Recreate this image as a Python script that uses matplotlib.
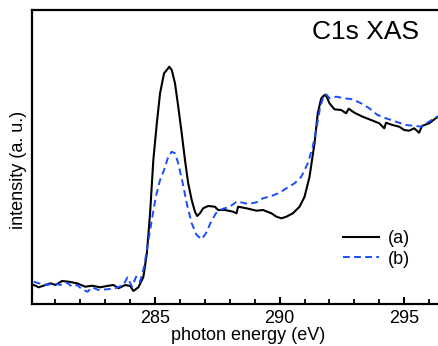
import matplotlib
matplotlib.use("Agg")
import matplotlib.pyplot as plt
from matplotlib.ticker import MultipleLocator

plt.rcParams['font.family'] = ['Liberation Sans', 'DejaVu Sans']

# curve (a): photon energy (eV), intensity (a. u.)
energy_a = [280.13, 280.33, 280.8, 281.0, 281.27, 281.53, 281.87, 282.2, 282.47, 282.8,
            283.07, 283.33, 283.53, 283.8, 284.0, 284.13, 284.33, 284.53, 284.67, 284.8,
            284.93, 285.07, 285.2, 285.36, 285.47, 285.57, 285.67, 285.8, 285.93, 286.07,
            286.2, 286.33, 286.47, 286.6, 286.69, 286.8, 286.93, 287.13, 287.4, 287.53,
            287.8, 288.13, 288.27, 288.33, 288.67, 289.07, 289.33, 289.67, 289.87, 290.07,
            290.27, 290.53, 290.8, 291.0, 291.2, 291.4, 291.53, 291.67, 291.8, 291.89,
            292.0, 292.2, 292.47, 292.67, 292.77, 293.0, 293.33, 293.67, 294.0, 294.2,
            294.27, 294.53, 294.8, 295.0, 295.2, 295.4, 295.6, 295.71, 296.0, 296.32, 296.6]
intensity_a = [19, 16.7, 20.7, 19, 23, 22.3, 20.7, 17.3, 18.3, 16.7,
               18, 19, 15.7, 19, 18, 13, 16.7, 27, 50.7, 90.7,
               144, 180.7, 210.7, 230.7, 234, 237.3, 234, 220.7, 197.3, 170.7,
               144, 120.7, 104, 92.3, 88, 90.7, 95.7, 98, 97.3, 94,
               94, 92.3, 90.7, 97.3, 95.7, 93.3, 94, 90.7, 87.3, 85.7,
               87.3, 90.7, 97.3, 107.3, 127.3, 160.7, 190.7, 205.7, 209, 207.3,
               200.7, 194.7, 194, 190.7, 195.3, 191.3, 187.3, 184, 180.7, 175.7,
               181.3, 179, 177.3, 174, 173.3, 175.7, 171.3, 178, 180.7, 186.7, 190]

# curve (b)
energy_b = [280.13, 280.33, 280.67, 280.93, 281.2, 281.47, 281.67, 281.87, 282.07, 282.29,
            282.47, 282.73, 283.07, 283.4, 283.73, 283.89, 284.07, 284.24, 284.4, 284.56,
            284.69, 284.87, 285.03, 285.2, 285.36, 285.53, 285.67, 285.8, 285.93, 286.11,
            286.27, 286.47, 286.67, 286.87, 287.04, 287.23, 287.44, 287.67, 288.0, 288.27,
            288.53, 288.73, 289.07, 289.33, 289.67, 290.0, 290.27, 290.6, 290.87, 291.13,
            291.33, 291.49, 291.63, 291.76, 291.87, 292.0, 292.27, 292.6, 292.93, 293.27,
            293.6, 293.93, 294.27, 294.67, 295.07, 295.47, 295.71, 295.93, 296.32, 296.6]
intensity_b = [22.3, 20.7, 19, 20.7, 19, 21.3, 17.3, 19, 14.7, 12.3,
               16.7, 14, 14.7, 15.7, 19, 26.7, 17.3, 27.3, 22.3, 37.3,
               57.3, 84, 107.3, 124, 134, 147.3, 152.3, 150.7, 140.7, 120.7,
               100.7, 80.7, 69, 64.7, 70.7, 81.3, 90.7, 94.7, 97.3, 102.3,
               101.3, 100, 101.7, 105.7, 108, 111.3, 115.7, 120.7, 127.3, 140.7,
               157.3, 177.3, 197.3, 207.3, 209.7, 205.7, 207.3, 205.7, 204.7, 200.7,
               195.7, 189, 185.7, 182.3, 179, 178, 177.3, 181.3, 187.3, 190]

labels = ['(a)', '(b)']
x_ticks = [285, 290, 295]

fig = plt.figure(figsize=(4.38, 3.46), dpi=100)
ax = fig.add_axes([32/438, 1-304/346, (464-32)/438, 294/346])

ax.plot(energy_a, intensity_a, color='black', lw=1.5, label=labels[0])
ax.plot(energy_b, intensity_b, color='#1a4cff', lw=1.4, ls=(0, (3.5, 2.2)), label=labels[1])

ax.set_xlim(280.06, 297.4)
ax.set_ylim(0, 294)
ax.set_xticks(x_ticks)
ax.xaxis.set_minor_locator(MultipleLocator(1))
ax.set_yticks([])
ax.tick_params(axis='x', which='major', direction='in', length=5, width=1.5, labelsize=13, pad=4)
ax.tick_params(axis='x', which='minor', direction='in', length=3.5, width=1.3)
for s in ['left', 'top', 'bottom', 'right']:
    ax.spines[s].set_linewidth(1.6)

ax.set_xlabel('photon energy (eV)', fontsize=13, labelpad=0)
ax.set_ylabel('intensity (a. u.)', fontsize=13)
ax.yaxis.set_label_coords(-0.012, 0.456)

ax.text((366-32)/432, 1-(32-10)/294, 'C1s XAS', fontsize=19, transform=ax.transAxes,
        ha='center', va='center')

leg = ax.legend(loc='upper left', bbox_to_anchor=((343-32)/432, 1-(230-10)/294),
                frameon=False, fontsize=13, handlelength=2.0, handletextpad=0.5,
                labelspacing=0.2, borderaxespad=0, borderpad=0)

fig.savefig('out.png', dpi=100)
